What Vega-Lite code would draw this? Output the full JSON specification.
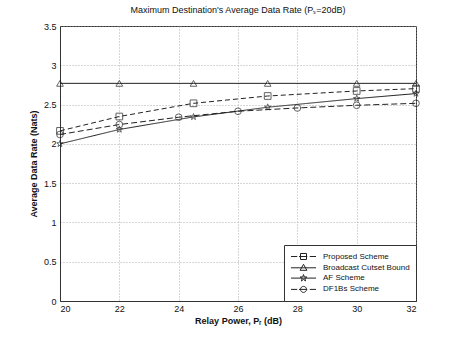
{
  "$schema": "https://vega.github.io/schema/vega-lite/v6.json",
  "width": 356,
  "height": 275,
  "autosize": {"type": "none"},
  "padding": {"left": 60, "top": 26, "right": 44, "bottom": 38},
  "background": "white",
  "config": {
    "font": "Liberation Sans",
    "view": {"stroke": "#333", "strokeWidth": 1},
    "axis": {
      "domainColor": "#333",
      "gridColor": "#999",
      "gridDash": [1, 2],
      "gridWidth": 0.8,
      "ticks": false,
      "labelFontSize": 9,
      "labelColor": "#111",
      "titleFontSize": 9,
      "titleFontWeight": "bold",
      "titleColor": "#111"
    }
  },
  "title": {
    "text": "Maximum Destination's Average Data Rate (Pₛ=20dB)",
    "fontSize": 9,
    "fontWeight": "normal",
    "color": "#111",
    "offset": 7
  },
  "data": {
    "values": [
      {"series": "Proposed Scheme", "x": 20, "y": 2.165},
      {"series": "Proposed Scheme", "x": 22, "y": 2.348},
      {"series": "Proposed Scheme", "x": 24.5, "y": 2.516},
      {"series": "Proposed Scheme", "x": 27, "y": 2.609},
      {"series": "Proposed Scheme", "x": 30, "y": 2.673},
      {"series": "Proposed Scheme", "x": 32, "y": 2.703},
      {"series": "Broadcast Cutset Bound", "x": 20, "y": 2.77},
      {"series": "Broadcast Cutset Bound", "x": 22, "y": 2.77},
      {"series": "Broadcast Cutset Bound", "x": 24.5, "y": 2.77},
      {"series": "Broadcast Cutset Bound", "x": 27, "y": 2.77},
      {"series": "Broadcast Cutset Bound", "x": 30, "y": 2.77},
      {"series": "Broadcast Cutset Bound", "x": 32, "y": 2.77},
      {"series": "AF Scheme", "x": 20, "y": 2.0},
      {"series": "AF Scheme", "x": 22, "y": 2.183},
      {"series": "AF Scheme", "x": 24.5, "y": 2.343},
      {"series": "AF Scheme", "x": 27, "y": 2.466},
      {"series": "AF Scheme", "x": 30, "y": 2.576},
      {"series": "AF Scheme", "x": 32, "y": 2.64},
      {"series": "DF1Bs Scheme", "x": 20, "y": 2.119},
      {"series": "DF1Bs Scheme", "x": 22, "y": 2.246},
      {"series": "DF1Bs Scheme", "x": 24, "y": 2.339},
      {"series": "DF1Bs Scheme", "x": 26, "y": 2.415},
      {"series": "DF1Bs Scheme", "x": 28, "y": 2.457},
      {"series": "DF1Bs Scheme", "x": 30, "y": 2.491},
      {"series": "DF1Bs Scheme", "x": 32, "y": 2.516}
    ]
  },
  "encoding": {
    "x": {
      "field": "x",
      "type": "quantitative",
      "scale": {"domain": [20, 32], "nice": false, "zero": false},
      "axis": {"values": [20, 22, 24, 26, 28, 30, 32], "title": "Relay Power, Pᵣ (dB)", "labelPadding": 3, "titlePadding": 3}
    },
    "y": {
      "field": "y",
      "type": "quantitative",
      "scale": {"domain": [0, 3.5], "nice": false},
      "axis": {"values": [0, 0.5, 1, 1.5, 2, 2.5, 3, 3.5], "format": "~g", "title": "Average Data Rate (Nats)", "labelPadding": 4, "titlePadding": 5}
    }
  },
  "layer": [
    {
      "mark": {"type": "line", "color": "#222", "strokeWidth": 1},
      "encoding": {
        "strokeDash": {
          "field": "series",
          "type": "nominal",
          "scale": {
            "domain": ["Proposed Scheme", "Broadcast Cutset Bound", "AF Scheme", "DF1Bs Scheme"],
            "range": [[5, 3], [1, 0], [1, 0], [6, 3]]
          },
          "legend": null
        }
      }
    },
    {
      "mark": {"type": "point", "filled": false, "color": "#222", "strokeWidth": 1, "size": 45},
      "encoding": {
        "shape": {
          "field": "series",
          "type": "nominal",
          "scale": {
            "domain": ["Proposed Scheme", "Broadcast Cutset Bound", "AF Scheme", "DF1Bs Scheme"],
            "range": ["square", "triangle-up", "M0,-1L0.235,-0.324L0.951,-0.309L0.38,0.124L0.588,0.809L0,0.4L-0.588,0.809L-0.38,0.124L-0.951,-0.309L-0.235,-0.324Z", "circle"]
          },
          "legend": null
        }
      }
    },
    {
      "mark": {"type": "point", "filled": false, "color": "#222", "opacity": 0},
      "encoding": {
        "shape": {
          "field": "series",
          "type": "nominal",
          "scale": {
            "domain": ["Proposed Scheme", "Broadcast Cutset Bound", "AF Scheme", "DF1Bs Scheme"],
            "range": [
              "M-2.5,0H-1.25M-0.9,0H0.75M-0.6,-0.6H0.6V0.6H-0.6ZM1.25,0H2.5",
              "M-2.5,0H2.5M0,-0.7L0.675,0.5H-0.675Z",
              "M-2.5,0H2.5M0,-0.7L0.165,-0.227L0.666,-0.216L0.266,0.087L0.412,0.566L0,0.28L-0.412,0.566L-0.266,0.087L-0.666,-0.216L-0.165,-0.227Z",
              "M-2.5,0H-1.25M-0.9,0H0.75M-0.6,0A0.6,0.6 0 1,0 0.6,0A0.6,0.6 0 1,0 -0.6,0ZM1.25,0H2.5"
            ]
          },
          "legend": {
            "title": null,
            "orient": "bottom-right",
            "offset": 0,
            "padding": 6,
            "rowPadding": 0.3,
            "strokeColor": "#333",
            "fillColor": "white",
            "labelFontSize": 8,
            "labelColor": "#111",
            "labelOffset": 14,
            "symbolOffset": 8,
            "labelExpr": "datum.label + '   '",
            "symbolSize": 100,
            "symbolStrokeWidth": 1,
            "symbolStrokeColor": "#222",
            "symbolFillColor": "transparent",
            "symbolOpacity": 1
          }
        }
      }
    }
  ],
  "resolve": {"scale": {"shape": "independent"}, "legend": {"shape": "independent"}}
}
